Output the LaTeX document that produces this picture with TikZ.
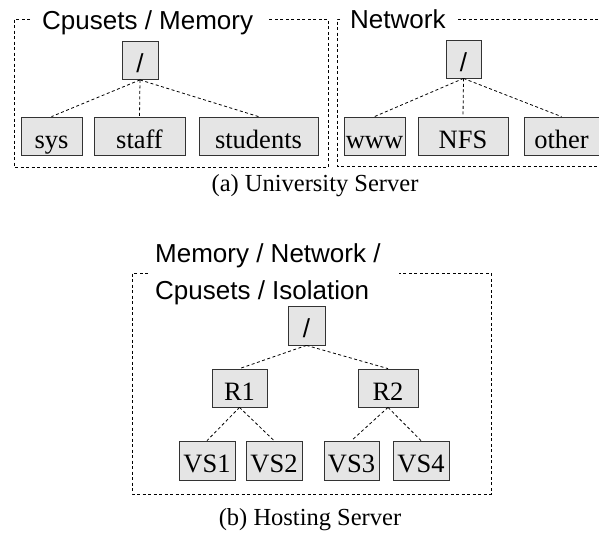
\documentclass[tikz,border=0pt]{standalone}
\usepackage{fontspec}
\setmainfont{Liberation Serif}
\newfontfamily\lsans{Liberation Sans}
\begin{document}
\begin{tikzpicture}[x=1pt,y=-1pt,
  tnode/.style={draw=black!80, line width=0.8pt, fill=gray!20, inner sep=0pt,
    minimum height=38pt, text height=27pt, text depth=3pt,
    font=\fontsize{26.5}{30}\selectfont},
  conn/.style={line width=0.8pt, dash pattern=on 3pt off 2.5pt},
  frame/.style={line width=0.8pt, dash pattern=on 3pt off 2.5pt},
  grouplabel/.style={anchor=base west, inner sep=0pt, font=\lsans\fontsize{26}{30}\selectfont},
  caption/.style={font=\fontsize{24.5}{28}\selectfont, inner sep=0pt}]
\useasboundingbox (0,0) rectangle (599,533);

% ---------- (a) Cpusets / Memory ----------
\draw[frame] (30,19) -- (14,19) -- (14,167) -- (328,167) -- (328,19) -- (268,19);
\node[grouplabel] (labA) at (42,29) {Cpusets / Memory};
\node[tnode, minimum width=36pt, font=\lsans\fontsize{26}{30}\selectfont] (rootA) at (140,60.5) {/};
\node[tnode, minimum width=61pt] (sys) at (51.5,136) {sys};
\node[tnode, minimum width=91pt] (staff) at (139.5,136) {staff};
\node[tnode, minimum width=119pt] (students) at (258.5,136) {students};
\draw[conn] (rootA.south) -- (sys.north);
\draw[conn] (rootA.south) -- (staff.north);
\draw[conn] (rootA.south) -- (students.north);

% ---------- (a) Network ----------
\draw[frame] (340,19) -- (337,19) -- (337,166) -- (605,166) -- (605,19) -- (458,19);
\node[grouplabel] (labB) at (350,28) {Network};
\node[tnode, minimum width=35pt, font=\lsans\fontsize{26}{30}\selectfont] (rootB) at (463.5,59) {/};
\node[tnode, minimum width=61pt] (www) at (374.5,136) {www};
\node[tnode, minimum width=90pt] (nfs) at (463,136) {NFS};
\node[tnode, minimum width=75pt] (other) at (561.5,136) {other};
\draw[conn] (rootB.south) -- (www.north);
\draw[conn] (rootB.south) -- (nfs.north);
\draw[conn] (rootB.south) -- (other.north);

\node[caption] (capA) at (315,186) {(a) University Server};

% ---------- (b) Hosting Server ----------
\draw[frame] (148,273) -- (132,273) -- (132,494) -- (491,494) -- (491,273) -- (399,273);
\node[grouplabel] (labC1) at (155,262) {Memory / Network /};
\node[grouplabel] (labC2) at (155,299) {Cpusets / Isolation};
\node[tnode, minimum width=37pt, minimum height=39pt, font=\lsans\fontsize{26}{30}\selectfont] (rootC) at (306.5,325.5) {/};
\node[tnode, minimum width=55pt] (r1) at (239.5,388) {R1};
\node[tnode, minimum width=60pt] (r2) at (388,388) {R2};
\node[tnode, minimum width=56pt, minimum height=39pt] (vs1) at (207,460.5) {VS1};
\node[tnode, minimum width=56pt, minimum height=39pt] (vs2) at (274,460.5) {VS2};
\node[tnode, minimum width=55pt, minimum height=39pt] (vs3) at (351.5,460.5) {VS3};
\node[tnode, minimum width=56pt, minimum height=39pt] (vs4) at (421,460.5) {VS4};
\draw[conn] (rootC.south) -- (r1.north);
\draw[conn] (rootC.south) -- (r2.north);
\draw[conn] (r1.south) -- (vs1.north);
\draw[conn] (r1.south) -- (vs2.north);
\draw[conn] (r2.south) -- (vs3.north);
\draw[conn] (r2.south) -- (vs4.north);

\node[caption] (capB) at (310,520) {(b) Hosting Server};
\end{tikzpicture}
\end{document}
